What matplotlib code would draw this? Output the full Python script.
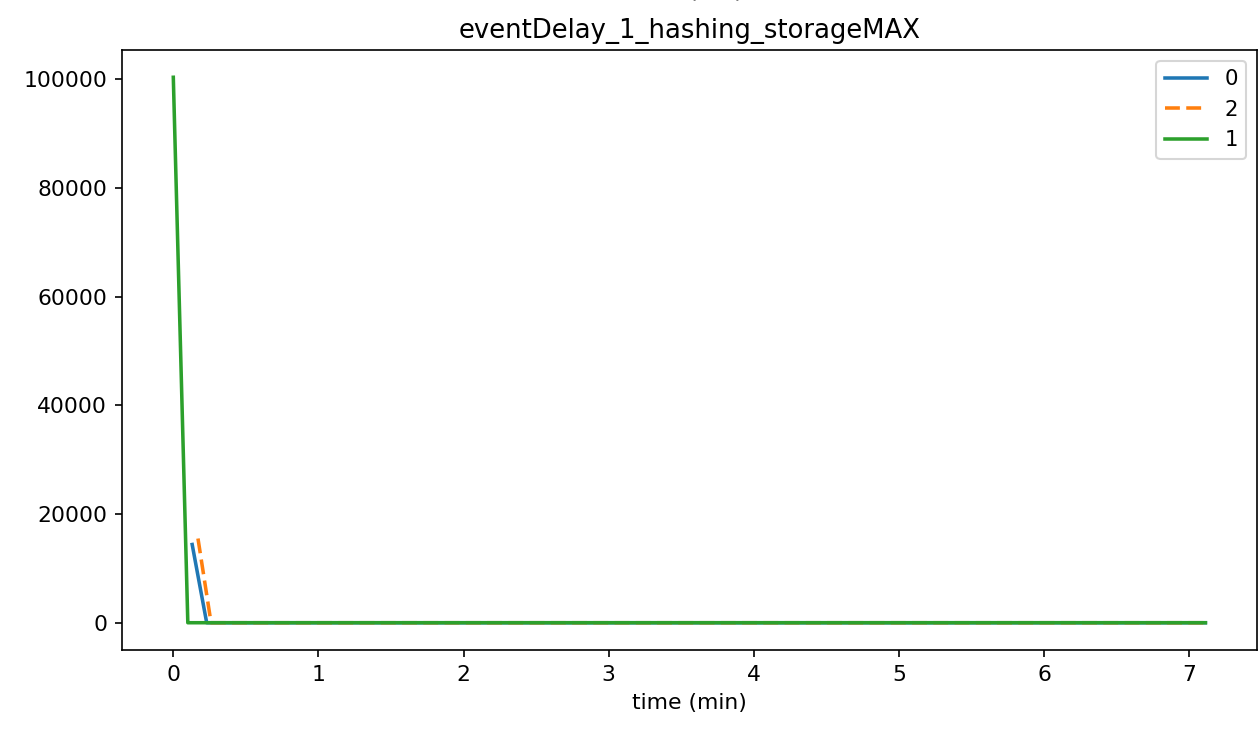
import matplotlib
matplotlib.use("Agg")
import matplotlib.pyplot as plt

# series (time in minutes)
series_names = ["0", "2", "1"]
time_0 = [0.13, 0.23, 7.11]
delay_0 = [14400, 0, 0]
time_2 = [0.17, 0.26, 7.11]
delay_2 = [15500, 0, 0]
time_1 = [0.0, 0.10, 7.11]
delay_1 = [100400, 0, 0]

title = "eventDelay_1_hashing_storageMAX"
x_label = "time (min)"
x_ticks = [0, 1, 2, 3, 4, 5, 6, 7]
y_ticks = [0, 20000, 40000, 60000, 80000, 100000]

W, H, DPI = 1259, 735, 150
plt.rcParams["font.size"] = 10.5
fig = plt.figure(figsize=(W / DPI, H / DPI), dpi=DPI)
ax = fig.add_axes([121.7 / W, 85 / H, (1257 - 121.7) / W, 600 / H])

ax.plot(time_0, delay_0, color="#1f77b4", lw=1.7, label=series_names[0])
ax.plot(time_2, delay_2, color="#ff7f0e", lw=1.7, dashes=(4.2, 1.8), label=series_names[1])
ax.plot(time_1, delay_1, color="#2ca02c", lw=1.7, label=series_names[2])

ax.set_xticks(x_ticks)
ax.set_yticks(y_ticks)
ax.set_xlabel(x_label)
ax.set_title(title, fontsize=12.4)
ax.legend(loc="upper right", fontsize=10.2)

# heading above the figure, mostly clipped as in the reference
fig.text(716 / W, 1 + 4 / H, "(ms)", ha="center", va="baseline", fontsize=12)

fig.savefig("out.png", dpi=DPI)
